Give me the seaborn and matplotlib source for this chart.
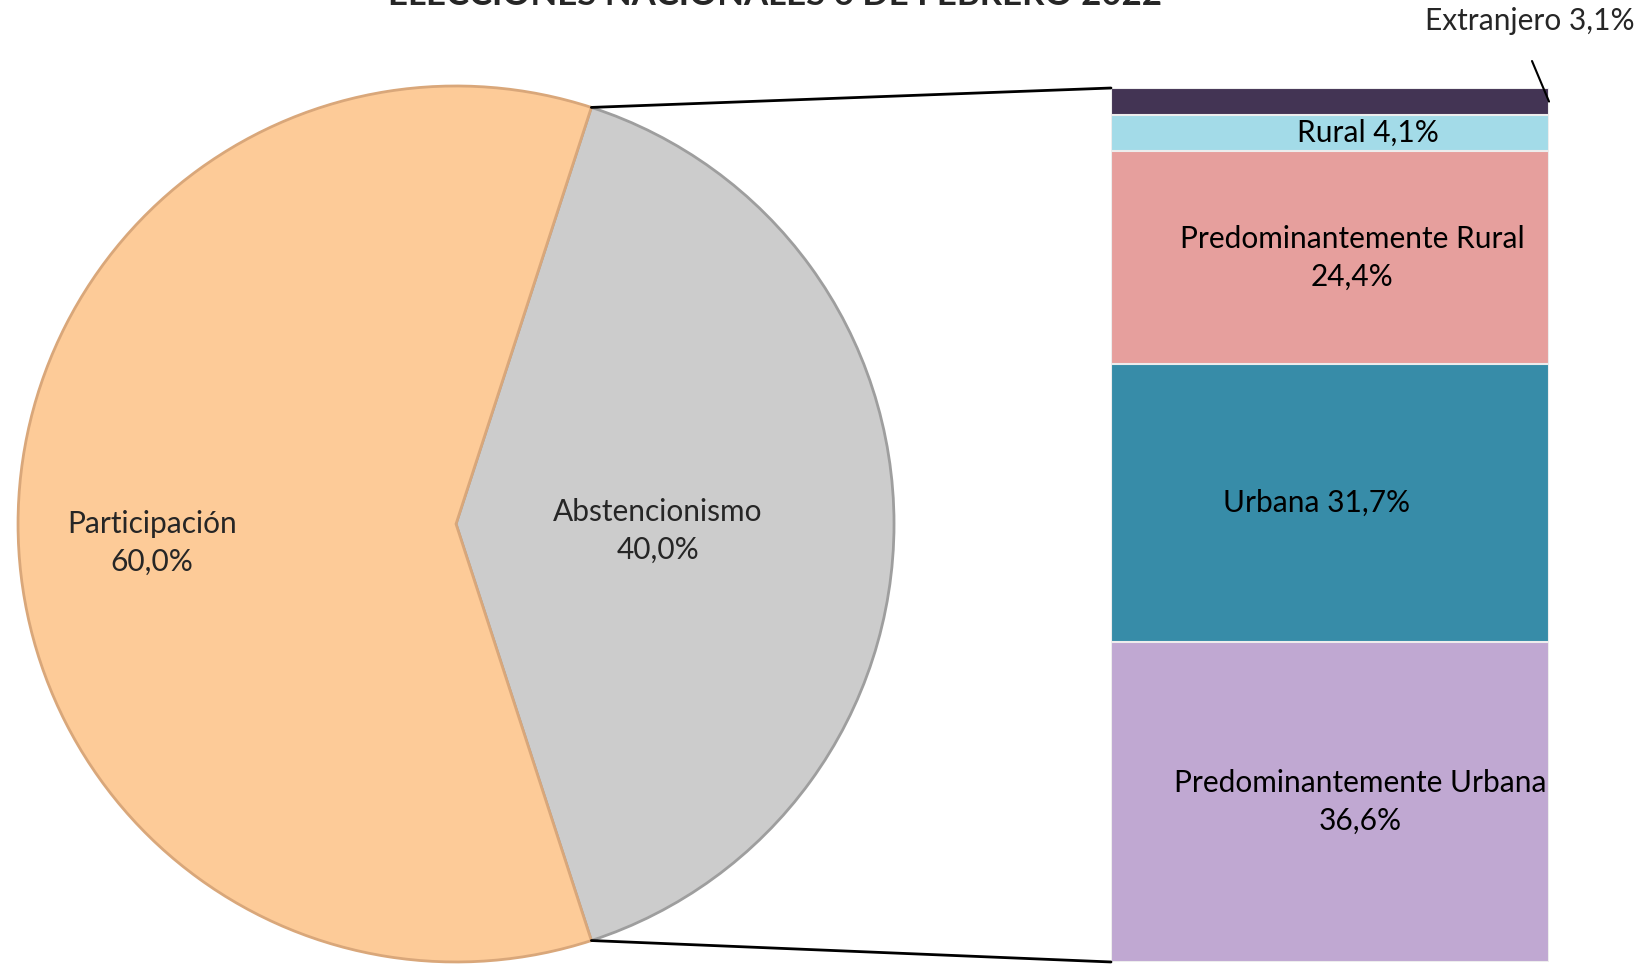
""" elecciones 6 de febrero 2022 - pie of bar """

import matplotlib.pyplot as plt
import numpy as np
import seaborn as sns
from matplotlib.patches import ConnectionPatch

# pie data
pie_labels = ["Abstencionismo", "Participación"]
pie_values = [40.0, 60.0]
pie_colors = ["#CCCCCC", "#FDCB98"]
pie_edges = ["#9E9E9E", "#D9A77A"]

# stacked bar data (bottom to top)
bar_labels = ["Predominantemente Urbana", "Urbana", "Predominantemente Rural",
              "Rural", "Extranjero"]
bar_values = [36.6, 31.7, 24.4, 4.1, 3.1]
bar_colors = ["#C0A8D2", "#378CA8", "#E69F9D", "#A3DBE8", "#433454"]
bar_texts = ["Predominantemente Urbana\n36,6%", "Urbana 31,7%",
             "Predominantemente Rural\n24,4%", "Rural 4,1%", "Extranjero 3,1%"]

title = "ELECCIONES NACIONALES 6 DE FEBRERO 2022"

sns.set_theme(style="white")
plt.rcParams["font.family"] = ["Lato", "DejaVu Sans"]

FS = 21.5
LS = 1.45
fig = plt.figure(figsize=(16.43, 9.64), dpi=100)

# ---- pie ----
ax_pie = fig.add_axes([0.01096, 0.0021, 0.5332, 0.9087])
half = pie_values[0] / 100 * 360 / 2
wedges, _ = ax_pie.pie(pie_values, colors=pie_colors, startangle=-half,
                       counterclock=True, radius=1,
                       wedgeprops=dict(linewidth=2))
for w, ec in zip(wedges, pie_edges):
    w.set_edgecolor(ec)
ax_pie.set_xlim(-1, 1)
ax_pie.set_ylim(-1, 1)
ax_pie.axis("off")

# labels of the pie
ax_pie.text(0.461, -0.016, "Abstencionismo\n40,0%", ha="center", va="center",
            fontsize=FS, linespacing=LS)
ax_pie.text(-0.694, -0.043, "Participación\n60,0%", ha="center", va="center",
            fontsize=FS, linespacing=LS)

# ---- stacked bar ----
ax_bar = fig.add_axes([0.6762, 0.0021, 0.2666, 0.9066])
cum = np.cumsum(bar_values)
for i in range(len(bar_values) - 1, -1, -1):
    sns.barplot(x=[0], y=[cum[i]], color=bar_colors[i], width=1,
                saturation=1, edgecolor="#EDEDED", linewidth=1.5, ax=ax_bar)
total = cum[-1]
ax_bar.set_xlim(-0.5, 0.5)
ax_bar.set_ylim(0, total)
ax_bar.axis("off")

mids = cum - np.array(bar_values) / 2
x_off = [0.07, -0.03, 0.05, 0.087]
for i in range(4):
    ax_bar.text(x_off[i], mids[i], bar_texts[i], ha="center", va="center",
                fontsize=FS, linespacing=LS, color="black")

# extranjero label with leader line
ax_bar.annotate("", xy=(0.5, mids[4]), xycoords="data",
                xytext=(1532, 903), textcoords="figure pixels",
                arrowprops=dict(arrowstyle="-", color="black", lw=1.5,
                                shrinkA=0, shrinkB=0))
fig.text(1530 / 1643, 1 - 21 / 964, bar_texts[4], ha="center", va="center",
         fontsize=FS)

# connector lines
ang = np.deg2rad(half)
for sgn, yb in [(1, total), (-1, 0)]:
    con = ConnectionPatch(xyA=(np.cos(ang), sgn * np.sin(ang)), coordsA=ax_pie.transData,
                          xyB=(-0.5, yb), coordsB=ax_bar.transData,
                          color="black", lw=2)
    fig.add_artist(con)

# title is cut at the top edge, as in the original
fig.text(775 / 1643, 1 - 5 / 964, title, ha="center", va="baseline",
         fontsize=25, fontweight="bold")

fig.savefig("out.png", dpi=100)
